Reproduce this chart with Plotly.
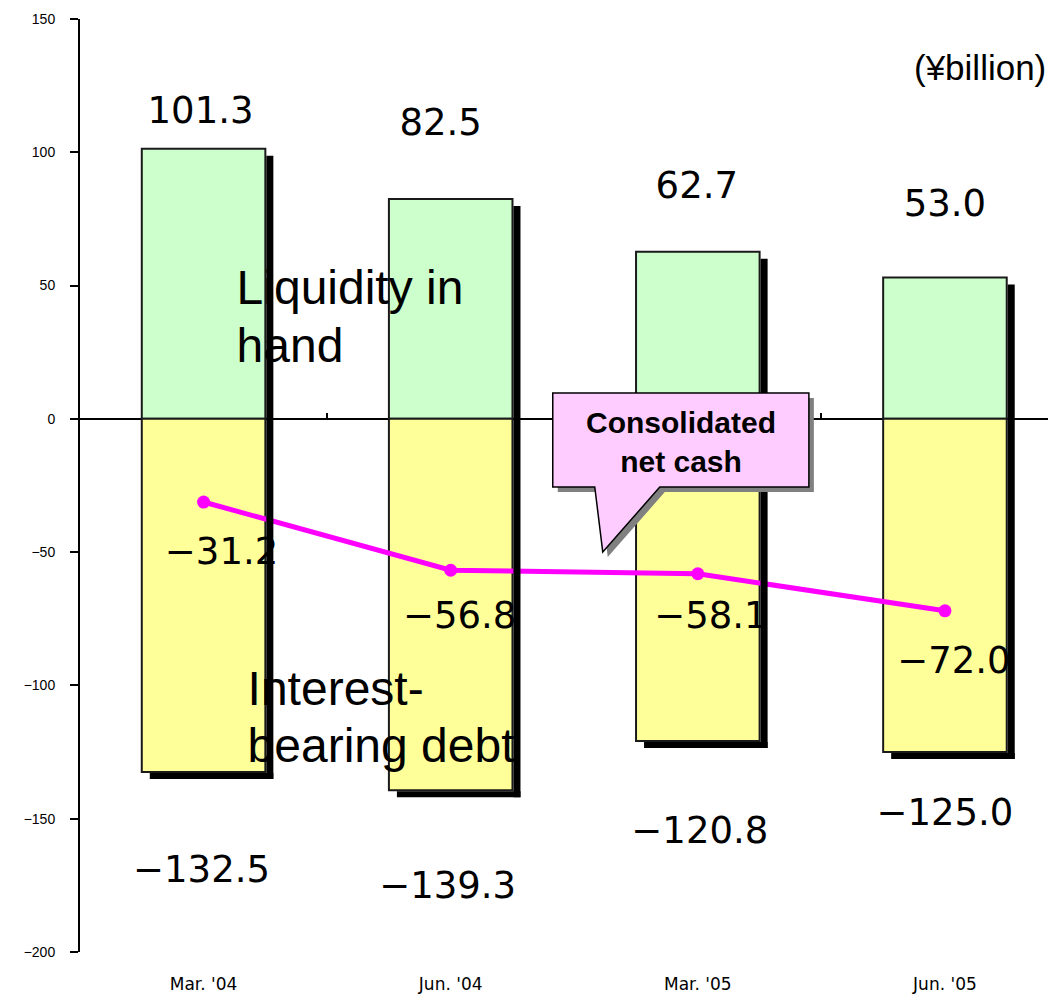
import plotly.graph_objects as go

# ---- data ----
categories = ["Mar. '04", "Jun. '04", "Mar. '05", "Jun. '05"]
liquidity = [101.3, 82.5, 62.7, 53.0]
debt = [-132.5, -139.3, -120.8, -125.0]
net_cash = [-31.2, -56.8, -58.1, -72.0]
y_ticks = [-200, -150, -100, -50, 0, 50, 100, 150]

# ---- geometry helpers (pixel -> data) ----
PX_PER_CAT = 247.0
PX_PER_UNIT = 2.664
X0_PX = 80.5
Y_TOP_PX = 19.3


def X(px):
    return (px - X0_PX) / PX_PER_CAT - 0.5


def Y(py):
    return 150 - (py - Y_TOP_PX) / PX_PER_UNIT


def dxp(px):
    return px / PX_PER_CAT


def dyp(py):
    return py / PX_PER_UNIT


xs = list(range(len(categories)))
BAR_W = 0.5
GREEN = "#CCFFCC"
YELLOW = "#FFFF99"
MAGENTA = "#FF00FF"
EDGE = "#1a1a1a"
VAL_FONT = dict(family="DejaVu Sans", size=37, color="black")
BIG_FONT = dict(family="Liberation Sans, Arial", size=48, color="black")

fig = go.Figure()

fig.add_trace(go.Bar(x=xs, y=liquidity, width=BAR_W,
                     marker=dict(color=GREEN, line=dict(color=EDGE, width=2)),
                     hoverinfo="skip", showlegend=False))
fig.add_trace(go.Bar(x=xs, y=debt, width=BAR_W,
                     marker=dict(color=YELLOW, line=dict(color=EDGE, width=2)),
                     hoverinfo="skip", showlegend=False))

# net cash line
fig.add_trace(go.Scatter(x=xs, y=net_cash, mode="lines+markers",
                         line=dict(color=MAGENTA, width=5),
                         marker=dict(color=MAGENTA, size=13),
                         hoverinfo="skip", showlegend=False))

# value labels (placement offsets in pixels)
LBL_ADJ = 4
top_dx = [-3, -10, -1, 0]
top_py = [110, 122, 185, 203]
bot_dx = [-2, -3, 2, 0]
bot_py = [868, 884, 830, 812]
net_dx = [18, 9, 13, 9]
net_py = [551, 615, 615, 660]

fig.add_trace(go.Scatter(
    x=[i + dxp(d) for i, d in zip(xs, top_dx)], y=[Y(p + LBL_ADJ) for p in top_py],
    mode="text", text=[f"{v:.1f}" for v in liquidity], textposition="middle center",
    textfont=VAL_FONT, hoverinfo="skip", showlegend=False))
fig.add_trace(go.Scatter(
    x=[i + dxp(d) for i, d in zip(xs, bot_dx)], y=[Y(p + LBL_ADJ) for p in bot_py],
    mode="text", text=[f"\u2212{abs(v):.1f}" for v in debt], textposition="middle center",
    textfont=VAL_FONT, hoverinfo="skip", showlegend=False))
fig.add_trace(go.Scatter(
    x=[i + dxp(d) for i, d in zip(xs, net_dx)], y=[Y(p + LBL_ADJ) for p in net_py],
    mode="text", text=[f"\u2212{abs(v):.1f}" for v in net_cash], textposition="middle center",
    textfont=VAL_FONT, hoverinfo="skip", showlegend=False))

# series name labels, one text per line
name_lines = ["Liquidity in", "hand", "Interest-", "bearing debt"]
name_px = [237, 237, 248, 248]
name_py = [289, 347, 690, 747]
fig.add_trace(go.Scatter(
    x=[X(p) for p in name_px], y=[Y(p + 3) for p in name_py], mode="text",
    text=name_lines, textposition="middle right", textfont=BIG_FONT,
    hoverinfo="skip", showlegend=False))

# invisible trace for the secondary x axis (ticks on zero line)
fig.add_trace(go.Scatter(x=[xs[0]], y=[0], xaxis="x2", mode="markers",
                         marker=dict(opacity=0), hoverinfo="skip", showlegend=False))

shapes = []
# drop shadows
sdx = dxp(8)
sdy = dyp(7)
for i, top, bot in zip(xs, liquidity, debt):
    left, right = i - BAR_W / 2, i + BAR_W / 2
    shapes.append(dict(type="rect", xref="x", yref="y", x0=right + dxp(1), x1=right + sdx,
                       y0=bot - sdy, y1=top - sdy, fillcolor="black",
                       line=dict(width=0), layer="above"))
    shapes.append(dict(type="rect", xref="x", yref="y", x0=left + sdx, x1=right + sdx,
                       y0=bot - sdy, y1=bot - dyp(1), fillcolor="black",
                       line=dict(width=0), layer="above"))

# callout
call_pts = [(553, 393), (809, 393), (809, 487), (660, 487), (603, 552), (595, 487), (553, 487)]


def path(pts, ox=0, oy=0):
    s = ""
    for k, (px, py) in enumerate(pts):
        s += ("M" if k == 0 else "L") + f"{X(px + ox):.4f},{Y(py + oy):.4f} "
    return s + "Z"


shapes.append(dict(type="path", xref="x", yref="y", path=path(call_pts, 5, 5),
                   fillcolor="#808080", line=dict(width=0), layer="above"))
shapes.append(dict(type="path", xref="x", yref="y", path=path(call_pts),
                   fillcolor="#FFCCFF", line=dict(color="black", width=1.5), layer="above"))

annotations = [
    dict(x=X(681), y=Y(442), xref="x", yref="y", text="<b>Consolidated<br>net cash</b>",
         showarrow=False, font=dict(family="Liberation Sans, Arial", size=30, color="black"),
         xanchor="center", yanchor="middle"),
    dict(x=1, y=Y(68), xref="paper", yref="y", text="(\u00a5billion)", showarrow=False,
         font=dict(family="Liberation Sans, Arial", size=35, color="black"),
         xanchor="right", yanchor="middle"),
]

fig.update_layout(
    width=1048, height=994,
    margin=dict(l=80, r=0, t=19, b=42),
    paper_bgcolor="white", plot_bgcolor="white",
    barmode="overlay",
    shapes=shapes, annotations=annotations,
    xaxis=dict(range=[-0.5, X(1048)], tickvals=xs, ticktext=categories,
               showgrid=False, zeroline=False, showline=False, ticks="",
               tickfont=dict(family="DejaVu Sans", size=17, color="black"),
               ticklabelstandoff=20),
    xaxis2=dict(overlaying="x", matches="x", anchor="free", position=200 / 350,
                tickvals=[0.5, 1.5, 2.5], ticks="inside", ticklen=6, tickwidth=1.5,
                tickcolor="black", showticklabels=False, showgrid=False,
                zeroline=False, showline=False),
    yaxis=dict(range=[-200, 150], tickvals=y_ticks, showgrid=False,
               zeroline=True, zerolinecolor="black", zerolinewidth=2,
               showline=True, linecolor="black", linewidth=2,
               ticks="outside", ticklen=8, tickwidth=2, tickcolor="black",
               tickfont=dict(family="Liberation Sans, Arial", size=14, color="black"),
               ticklabelstandoff=12),
)

fig.write_html("out.html", config={"displayModeBar": False},
               post_script="document.body.style.margin='0';document.body.style.overflow='hidden';")
